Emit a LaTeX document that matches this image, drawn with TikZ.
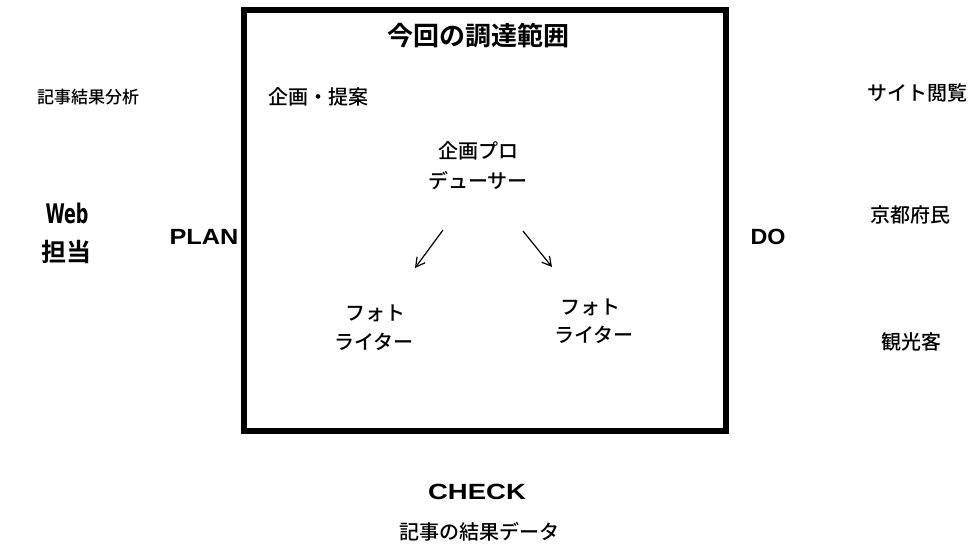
\documentclass[tikz,border=0pt]{standalone}
\usepackage{fontspec}
\usetikzlibrary{arrows.meta}
\newfontfamily\jp{Noto Sans CJK JP Medium}[BoldFont={Noto Sans CJK JP Bold}]
\newfontfamily\lat{Liberation Sans}
\newfontfamily\webf{DejaVu Sans Condensed}
\tikzset{
  jt/.style={font=\jp\fontsize{20}{24}\selectfont, inner sep=0pt, align=center},
  jsmall/.style={font=\jp\fontsize{17}{20}\selectfont, inner sep=0pt},
  phase/.style={font=\lat\bfseries\fontsize{22}{26}\selectfont, inner sep=0pt},
  flow/.style={line width=1.2pt, -{Straight Barb[length=9pt,width=10pt,line width=1.2pt]}}
}
\begin{document}
\begin{tikzpicture}[x=1pt,y=-1pt]
\useasboundingbox (0,0) rectangle (969,549);
% scope box
\draw[line width=6.5pt] (244,10) rectangle (726,431);
\node[font=\jp\bfseries\fontsize{26}{30}\selectfont, inner sep=0pt] (title) at (478,36) {今回の調達範囲};
\node[jt, anchor=west] (plan1) at (268,97) {企画・提案};
\node[jt] (prod1) at (478,151) {企画プロ};
\node[jt] (prod2) at (478,181) {デューサー};
\coordinate (pa) at (443,230);
\coordinate (pb) at (523,231);
\coordinate (la) at (415,268);
\coordinate (ra) at (552,267);
\node[jt] (lw1) at (375,313) {フォト};
\node[jt] (lw2) at (374,342) {ライター};
\node[jt] (rw1) at (590,307) {フォト};
\node[jt] (rw2) at (594,335) {ライター};
\draw[flow] (pa) -- (la);
\draw[flow] (pb) -- (ra);
% left side
\node[jsmall, anchor=west] (ana) at (37,97) {記事結果分析};
\node[font=\webf\bfseries\fontsize{27}{30}\selectfont, inner sep=0pt, xscale=0.72] (web) at (67,213) {Web};
\node[font=\jp\bfseries\fontsize{25}{28}\selectfont, inner sep=0pt] (tanto) at (66,252) {担当};
\node[phase, xscale=1.15] (plan) at (204,237) {PLAN};
% right side
\node[phase, xscale=1.06] (do) at (768,237) {DO};
\node[jt, anchor=east] (site) at (968,93) {サイト閲覧};
\node[jt] (kyoto) at (910,215) {京都府民};
\node[jt] (kanko) at (911,342) {観光客};
% bottom
\node[phase, xscale=1.25] (check) at (477,492) {CHECK};
\node[jt] (data) at (479,532) {記事の結果データ};
\end{tikzpicture}
\end{document}
